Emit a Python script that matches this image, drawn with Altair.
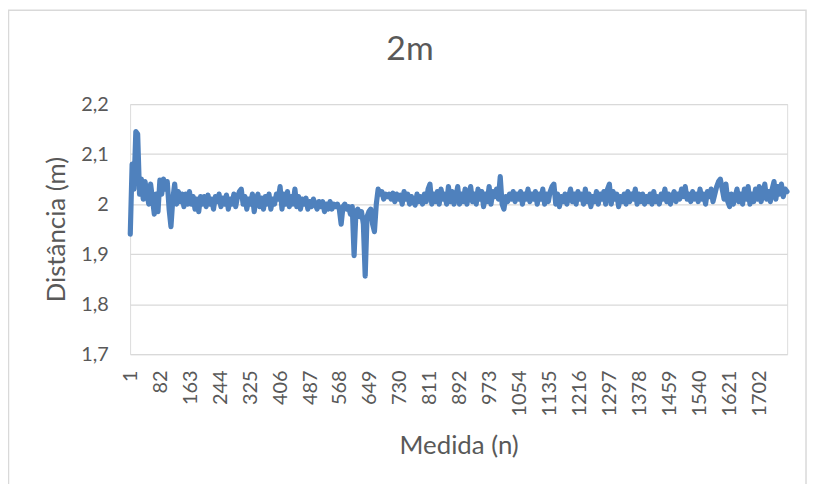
import altair as alt
import pandas as pd

# Measured distances, one value every 5 measurements (n = 1, 6, 11, ...)
distancia = [
    1.940, 2.080, 2.030, 2.145, 2.140, 2.020, 2.050, 2.010, 2.045, 2.020, 2.000, 2.040, 2.010, 1.980, 2.020, 1.985, 2.048, 2.020, 2.050, 2.030,
    2.045, 1.990, 1.955, 2.010, 2.040, 2.000, 2.025, 2.005, 2.020, 1.995, 2.020, 2.000, 2.025, 2.000, 2.015, 1.990, 2.010, 1.985, 2.015, 2.000,
    2.015, 1.995, 2.018, 2.000, 2.010, 1.990, 2.015, 2.005, 2.020, 1.995, 2.012, 2.000, 2.018, 1.990, 2.010, 2.000, 2.020, 1.995, 2.015, 2.025,
    2.030, 2.000, 2.015, 1.990, 2.010, 2.000, 2.020, 1.985, 2.010, 2.020, 1.995, 2.012, 1.990, 2.015, 2.000, 2.020, 1.990, 2.010, 2.000, 2.020,
    2.010, 2.035, 1.990, 2.020, 2.000, 2.025, 1.995, 2.015, 2.000, 2.030, 1.995, 2.015, 1.990, 2.010, 2.000, 2.012, 1.990, 2.005, 1.995, 2.010,
    2.000, 1.990, 2.005, 1.995, 2.005, 1.985, 2.000, 1.990, 2.005, 1.990, 2.000, 1.995, 2.000, 1.990, 1.960, 1.995, 2.000, 1.990, 1.995, 1.980,
    1.995, 1.897, 1.985, 1.990, 1.975, 1.985, 1.960, 1.856, 1.975, 1.985, 1.990, 1.960, 1.945, 2.000, 2.030, 2.020, 2.025, 2.010, 2.020, 2.015,
    2.020, 2.010, 2.022, 2.005, 2.020, 2.010, 2.018, 2.000, 2.025, 2.010, 2.020, 2.000, 2.015, 2.005, 1.998, 2.020, 2.005, 2.015, 2.000, 2.020,
    2.005, 2.030, 2.040, 2.000, 2.020, 2.005, 2.025, 2.000, 2.030, 2.010, 2.020, 2.000, 2.035, 2.005, 2.025, 2.000, 2.015, 2.035, 2.000, 2.020,
    2.005, 2.030, 2.000, 2.020, 2.035, 2.005, 2.020, 2.000, 2.030, 2.010, 2.025, 1.995, 2.020, 2.005, 2.035, 2.000, 2.025, 2.015, 2.030, 2.010,
    2.055, 2.000, 1.990, 2.015, 2.005, 2.020, 2.010, 2.025, 2.005, 2.020, 2.010, 2.025, 2.000, 2.020, 2.010, 2.030, 2.005, 2.020, 2.010, 2.025,
    2.000, 2.020, 2.010, 2.030, 2.000, 2.020, 2.005, 2.025, 2.035, 2.040, 2.000, 2.020, 1.995, 2.015, 2.005, 2.020, 2.000, 2.015, 2.030, 2.005,
    2.020, 2.000, 2.025, 2.010, 2.020, 2.000, 2.030, 2.005, 2.020, 1.995, 2.015, 2.005, 2.025, 2.000, 2.020, 2.010, 2.025, 2.000, 2.030, 2.040,
    2.000, 2.025, 2.010, 2.020, 1.995, 2.015, 2.005, 2.020, 2.000, 2.025, 2.005, 2.020, 2.010, 2.030, 2.000, 2.020, 2.005, 2.020, 2.000, 2.015,
    2.005, 2.020, 2.000, 2.025, 2.005, 2.015, 2.000, 2.020, 2.010, 2.030, 2.005, 2.020, 2.000, 2.015, 2.025, 2.005, 2.020, 2.010, 2.030, 2.015,
    2.035, 2.010, 2.020, 2.005, 2.025, 2.010, 2.020, 2.005, 2.030, 2.010, 2.020, 2.000, 2.025, 2.015, 2.030, 2.005, 2.020, 2.035, 2.045, 2.050,
    2.030, 2.010, 2.040, 2.005, 1.995, 2.020, 2.000, 2.015, 2.030, 2.005, 2.020, 2.000, 2.030, 2.010, 2.035, 2.000, 2.020, 2.005, 2.030, 2.010,
    2.035, 2.005, 2.020, 2.040, 2.010, 2.025, 2.005, 2.030, 2.045, 2.010, 2.035, 2.020, 2.040, 2.015, 2.030, 2.025,
]
medida = [1 + 5 * i for i in range(len(distancia))]

x_tick_labels = [1, 82, 163, 244, 325, 406, 487, 568, 649, 730, 811, 892, 973, 1054,
                 1135, 1216, 1297, 1378, 1459, 1540, 1621, 1702]
y_tick_labels = [1.7, 1.8, 1.9, 2.0, 2.1, 2.2]
titulo = "2m"

df = pd.DataFrame({"Medida": medida, "Distancia": distancia})

FONT = "Lato"
GREY = "#595959"
GRID = "#d9d9d9"

line = alt.Chart(df).mark_line(
    color="#4f81bd", strokeWidth=5.2, strokeJoin="round", strokeCap="round"
).encode(
    x=alt.X(
        "Medida:Q",
        scale=alt.Scale(domain=[0.5, 1776.5], nice=False, zero=False),
        axis=alt.Axis(
            values=x_tick_labels, labelAngle=-90, grid=False, ticks=False, domain=False,
            format="d",
            labelPadding=16, labelFontSize=20, labelColor=GREY, labelFont=FONT,
            labelOverlap=False, labelFlush=False,
            title="Medida (n)", titleFontSize=26, titleFontWeight="normal",
            titleColor=GREY, titleFont=FONT, titleX=331, titleY=92,
            titleAlign="center", titleBaseline="middle",
        ),
    ),
    y=alt.Y(
        "Distancia:Q",
        scale=alt.Scale(domain=[1.7, 2.2], nice=False, zero=False),
        axis=alt.Axis(
            values=y_tick_labels, grid=True, gridColor=GRID, gridWidth=1.3,
            ticks=False, domain=False, labelPadding=22, labelFontSize=20,
            labelColor=GREY, labelFont=FONT,
            labelExpr="replace(toString(datum.value), '.', ',')",
            title="Distância (m)", titleFontSize=26, titleFontWeight="normal",
            titleColor=GREY, titleFont=FONT, titleX=-74, titleY=126,
            titleAngle=-90, titleAlign="center", titleBaseline="middle",
        ),
    ),
)

title = alt.Chart(alt.Data(values=[{"t": titulo}])).mark_text(
    fontSize=34, font=FONT, color=GREY, align="center", baseline="middle"
).encode(text="t:N", x=alt.value(282), y=alt.value(-54))

frame = alt.Chart(alt.Data(values=[{"a": 1}])).mark_rect(
    fillOpacity=0, stroke=GRID, strokeWidth=1.5
).encode(x=alt.value(-122.5), x2=alt.value(681), y=alt.value(-94.5), y2=alt.value(400))

chart = alt.layer(frame, line, title).properties(
    width=662, height=252,
    autosize=alt.AutoSizeParams(type="none"),
    padding={"left": 123, "top": 95, "right": 20, "bottom": 129},
).configure_view(stroke=None).configure(background="white")

chart.save("out.html", embed_options={"renderer": "svg", "actions": False})
